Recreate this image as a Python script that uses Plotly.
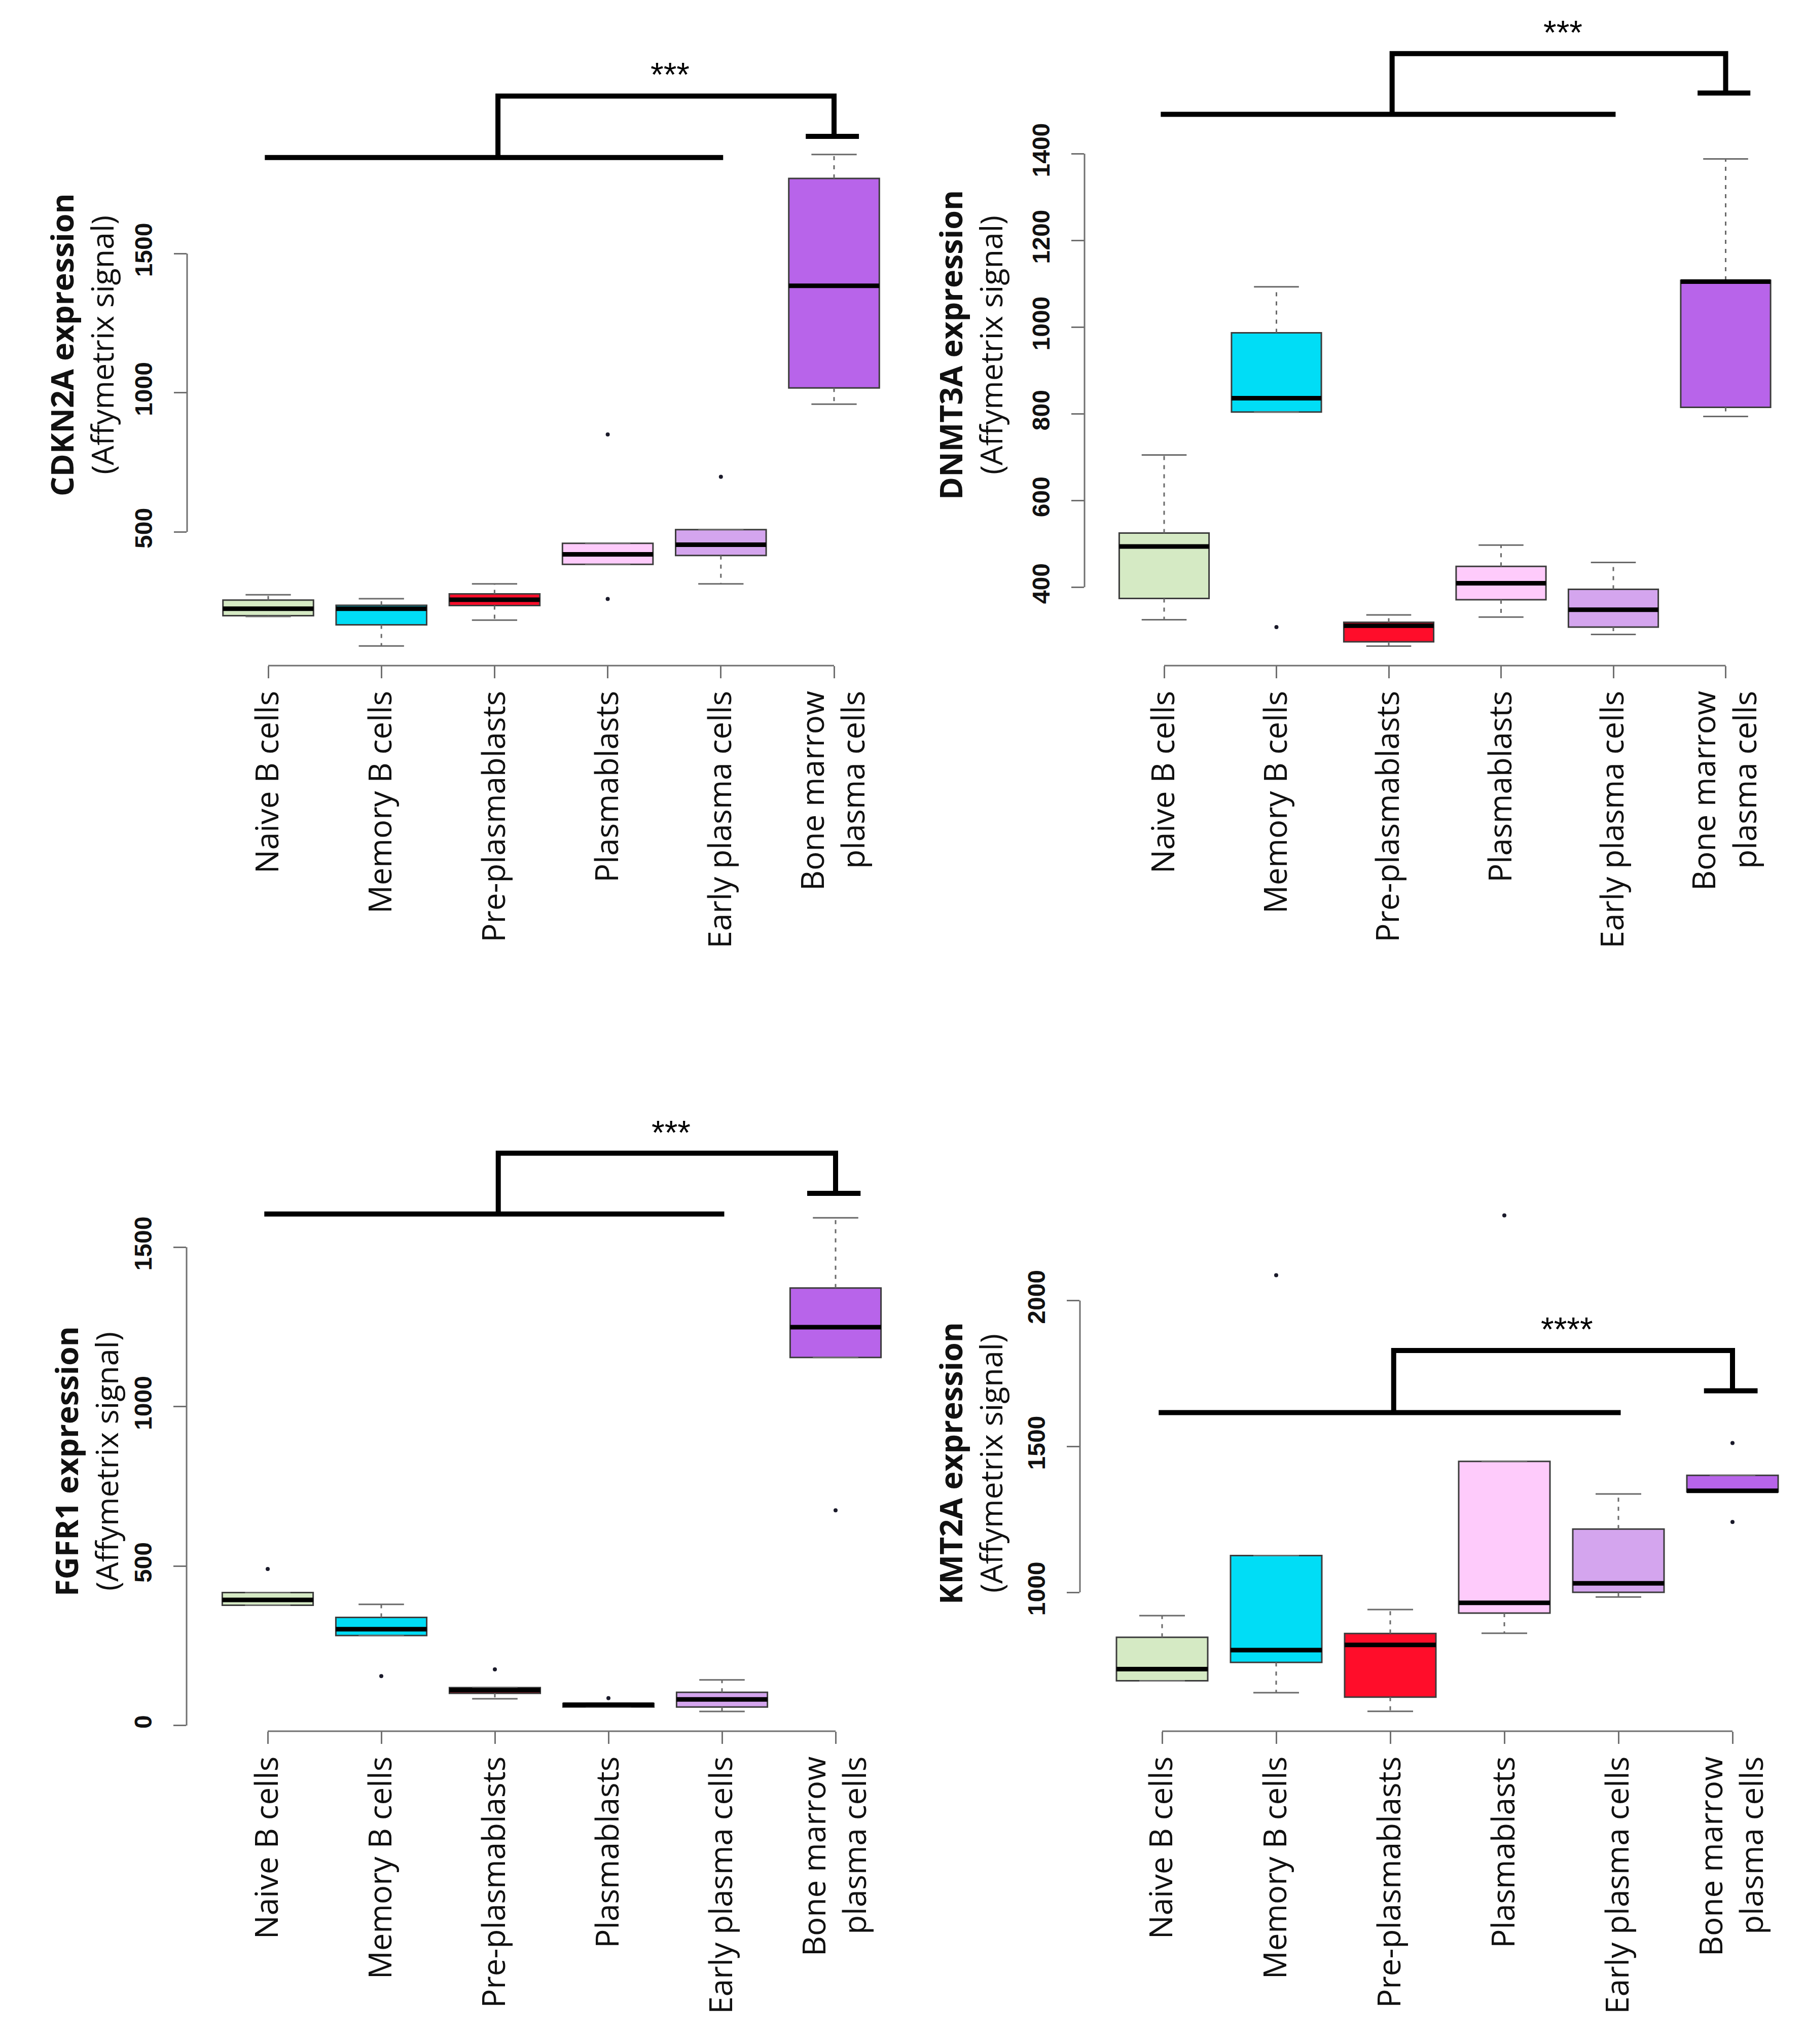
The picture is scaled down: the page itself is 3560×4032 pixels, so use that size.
import plotly.graph_objects as go

W, H = 3560, 4032

# ---------------- data ----------------
categories = ["Naive B cells", "Memory B cells", "Pre-plasmablasts",
              "Plasmablasts", "Early plasma cells", "Bone marrow<br>plasma cells"]
positions = [1, 2, 3, 4, 5, 6]
box_colors = ["#D5EAC4", "#00DDF6", "#FF0D2A", "#FECBFB", "#D4A5EE", "#B864EA"]

# CDKN2A
cdkn2a_lower = [196, 90, 183, 383, 313, 959]
cdkn2a_q1 = [199, 166, 235, 383, 415, 1017]
cdkn2a_median = [224, 224, 256, 419, 454, 1384]
cdkn2a_q3 = [255, 236, 277, 459, 508, 1770]
cdkn2a_upper = [274, 260, 313, 459, 508, 1856]
cdkn2a_out_x = [4, 4, 5]
cdkn2a_out_y = [850, 259, 698]
cdkn2a_ticks = [500, 1000, 1500]
cdkn2a_bracket = [1845, 2066, 1921]   # lower bar, upper bar, cap
cdkn2a_star = ["***", 2158]

# DNMT3A
dnmt3a_lower = [325, 804, 264, 331, 291, 794]
dnmt3a_q1 = [374, 804, 274, 371, 308, 815]
dnmt3a_median = [494, 836, 311, 409, 348, 1105]
dnmt3a_q3 = [525, 987, 319, 448, 395, 1108]
dnmt3a_upper = [705, 1093, 336, 497, 457, 1388]
dnmt3a_out_x = [2]
dnmt3a_out_y = [308]
dnmt3a_ticks = [400, 600, 800, 1000, 1200, 1400]
dnmt3a_bracket = [1491, 1631, 1540]
dnmt3a_star = ["***", 1689]

# FGFR1
fgfr1_lower = [377, 282, 84, 58, 44, 1154]
fgfr1_q1 = [377, 282, 101, 58, 58, 1154]
fgfr1_median = [394, 302, 111, 65, 82, 1249]
fgfr1_q3 = [417, 339, 119, 69, 104, 1372]
fgfr1_upper = [417, 380, 119, 69, 143, 1592]
fgfr1_out_x = [1, 2, 3, 4, 6]
fgfr1_out_y = [491, 155, 176, 86, 675]
fgfr1_ticks = [0, 500, 1000, 1500]
fgfr1_bracket = [1604, 1795, 1669]
fgfr1_star = ["***", 1873]

# KMT2A
kmt2a_lower = [697, 656, 592, 860, 984, 1344]
kmt2a_q1 = [697, 760, 641, 929, 1000, 1344]
kmt2a_median = [737, 802, 820, 964, 1031, 1348]
kmt2a_q3 = [846, 1126, 859, 1449, 1217, 1401]
kmt2a_upper = [920, 1126, 941, 1449, 1337, 1401]
kmt2a_out_x = [2, 4, 6, 6]
kmt2a_out_y = [2087, 2292, 1512, 1241]
kmt2a_ticks = [1000, 1500, 2000]
kmt2a_bracket = [1616, 1829, 1691]
kmt2a_star = ["****", 1915]

genes = ["CDKN2A", "DNMT3A", "FGFR1", "KMT2A"]

# bracket horizontal extents (category positions)
group_a_span = [0.97, 5.02]     # all other populations
group_join_x = 3.03
group_b_x = 6
cap_span = [5.75, 6.22]
star_x = 4.55

panels = [
    dict(gene="CDKN2A", lower=cdkn2a_lower, q1=cdkn2a_q1, med=cdkn2a_median, q3=cdkn2a_q3,
         upper=cdkn2a_upper, ox=cdkn2a_out_x, oy=cdkn2a_out_y, ticks=cdkn2a_ticks,
         br=cdkn2a_bracket, star=cdkn2a_star),
    dict(gene="DNMT3A", lower=dnmt3a_lower, q1=dnmt3a_q1, med=dnmt3a_median, q3=dnmt3a_q3,
         upper=dnmt3a_upper, ox=dnmt3a_out_x, oy=dnmt3a_out_y, ticks=dnmt3a_ticks,
         br=dnmt3a_bracket, star=dnmt3a_star),
    dict(gene="FGFR1", lower=fgfr1_lower, q1=fgfr1_q1, med=fgfr1_median, q3=fgfr1_q3,
         upper=fgfr1_upper, ox=fgfr1_out_x, oy=fgfr1_out_y, ticks=fgfr1_ticks,
         br=fgfr1_bracket, star=fgfr1_star),
    dict(gene="KMT2A", lower=kmt2a_lower, q1=kmt2a_q1, med=kmt2a_median, q3=kmt2a_q3,
         upper=kmt2a_upper, ox=kmt2a_out_x, oy=kmt2a_out_y, ticks=kmt2a_ticks,
         br=kmt2a_bracket, star=kmt2a_star),
]

# ---------------- layout geometry (pixels) ----------------
DX, DY = -15, -6
geom = [
    dict(left=376, cat1=536, step=223.2, right=1775, bottom=1311, scale=0.549, top=40,
         tx=153, ty=678),
    dict(left=2146, cat1=2303, step=221.5, right=3540, bottom=1311, scale=0.855, top=40,
         tx=1906, ty=679),
    dict(left=375, cat1=535, step=224.0, right=1778, bottom=3413, scale=0.629, top=2100,
         tx=162, ty=2881),
    dict(left=2137, cat1=2299, step=225.0, right=3548, bottom=3413, scale=0.5755, top=2100,
         tx=1906, ty=2885),
]
for g in geom:
    for key in ("left", "cat1", "right"):
        g[key] += DX
    for key in ("bottom", "top", "ty"):
        g[key] += DY

BOX_W = 0.8
CAP_HALF = 0.2
WHISK_COL = "#6a6a6a"
AXIS_COL = "#707070"

fig = go.Figure()
layout_axes = {}
shapes = []
annotations = []

for k, (p, g) in enumerate(zip(panels, geom), start=1):
    xa = "x" if k == 1 else f"x{k}"
    ya = "y" if k == 1 else f"y{k}"

    # boxes
    for i, pos in enumerate(positions):
        fig.add_trace(go.Box(
            x=[pos], q1=[p["q1"][i]], median=[p["med"][i]], q3=[p["q3"][i]],
            lowerfence=[p["q1"][i]], upperfence=[p["q3"][i]],
            width=BOX_W, fillcolor=box_colors[i],
            line=dict(color="#3c3c3c", width=3), boxpoints=False,
            whiskerwidth=0, showlegend=False, hoverinfo="skip",
            xaxis=xa, yaxis=ya))

    # dashed whiskers, caps, medians
    wx, wy = [], []
    cx, cy = [], []
    mx, my = [], []
    for i, pos in enumerate(positions):
        wx += [pos, pos, None, pos, pos, None]
        wy += [p["q3"][i], p["upper"][i], None, p["q1"][i], p["lower"][i], None]
        cx += [pos - CAP_HALF, pos + CAP_HALF, None, pos - CAP_HALF, pos + CAP_HALF, None]
        cy += [p["upper"][i], p["upper"][i], None, p["lower"][i], p["lower"][i], None]
        mx += [pos - BOX_W / 2, pos + BOX_W / 2, None]
        my += [p["med"][i], p["med"][i], None]
    fig.add_trace(go.Scatter(x=wx, y=wy, mode="lines",
                             line=dict(color=WHISK_COL, width=3, dash="8px,10px"),
                             showlegend=False, hoverinfo="skip", xaxis=xa, yaxis=ya))
    fig.add_trace(go.Scatter(x=cx, y=cy, mode="lines",
                             line=dict(color=WHISK_COL, width=3),
                             showlegend=False, hoverinfo="skip", xaxis=xa, yaxis=ya))
    fig.add_trace(go.Scatter(x=mx, y=my, mode="lines",
                             line=dict(color="#000000", width=9),
                             showlegend=False, hoverinfo="skip", xaxis=xa, yaxis=ya))
    # outliers
    fig.add_trace(go.Scatter(x=p["ox"], y=p["oy"], mode="markers",
                             marker=dict(color="#1a1a2a", size=8),
                             showlegend=False, hoverinfo="skip", xaxis=xa, yaxis=ya))

    # significance bracket
    lo_b, hi_b, cap_b = p["br"]
    bx = [group_a_span[0], group_a_span[1], None,
          group_join_x, group_join_x, group_b_x, group_b_x, None,
          cap_span[0], cap_span[1]]
    by = [lo_b, lo_b, None, lo_b, hi_b, hi_b, cap_b, None, cap_b, cap_b]
    fig.add_trace(go.Scatter(x=bx, y=by, mode="lines",
                             line=dict(color="#000000", width=10),
                             showlegend=False, hoverinfo="skip", xaxis=xa, yaxis=ya))
    annotations.append(dict(x=star_x, y=p["star"][1], xref=xa, yref=ya,
                            text=p["star"][0], showarrow=False, yshift=-8,
                            font=dict(family="Liberation Sans, Arial", size=66, color="#000"),
                            xanchor="center", yanchor="middle"))

    # axis ranges
    all_vals = p["lower"] + p["upper"] + p["oy"]
    vmin, vmax = min(all_vals), max(all_vals)
    ylo = vmin - 0.04 * (vmax - vmin)
    yhi = ylo + (g["bottom"] - g["top"]) / g["scale"]
    xlo = 1 - (g["cat1"] - g["left"]) / g["step"]
    xhi = 1 + (g["right"] - g["cat1"]) / g["step"]

    layout_axes["xaxis" if k == 1 else f"xaxis{k}"] = dict(
        domain=[g["left"] / W, g["right"] / W], range=[xlo, xhi], anchor=ya,
        tickmode="array", tickvals=positions, ticktext=categories, tickangle=-90,
        ticks="outside", ticklen=24, tickwidth=3, tickcolor=AXIS_COL,
        showline=False, showgrid=False, zeroline=False, ticklabelstandoff=0,
        tickfont=dict(family="Open Sans", size=62, color="#111111"))
    layout_axes["yaxis" if k == 1 else f"yaxis{k}"] = dict(
        domain=[1 - g["bottom"] / H, 1 - g["top"] / H], range=[ylo, yhi], anchor=xa,
        tickmode="array", tickvals=p["ticks"], tickangle=-90,
        ticks="outside", ticklen=25, tickwidth=3, tickcolor=AXIS_COL,
        showline=False, showgrid=False, zeroline=False, ticklabelstandoff=24,
        tickfont=dict(family="Liberation Sans, Arial", size=48, color="#111111",
                      weight="bold"))

    # R-style axis lines spanning only the tick range
    shapes.append(dict(type="line", xref=f"{xa} domain", yref=ya, x0=0, x1=0,
                       y0=p["ticks"][0], y1=p["ticks"][-1],
                       line=dict(color=AXIS_COL, width=3)))
    shapes.append(dict(type="line", xref=xa, yref=f"{ya} domain",
                       x0=positions[0], x1=positions[-1], y0=0, y1=0,
                       line=dict(color=AXIS_COL, width=3)))

    # y-axis title
    annotations.append(dict(x=g["tx"] / W, y=1 - g["ty"] / H, xref="paper", yref="paper",
                            text=f"<b>{p['gene']} expression</b><br>(Affymetrix signal)",
                            textangle=-90, showarrow=False,
                            font=dict(family="Open Sans", size=61, color="#111111"),
                            xanchor="center", yanchor="middle"))

fig.update_layout(
    width=W, height=H, autosize=False,
    margin=dict(l=0, r=0, t=0, b=0),
    paper_bgcolor="white", plot_bgcolor="white",
    showlegend=False, shapes=shapes, annotations=annotations,
    **layout_axes)

fig.write_html("out.html")
